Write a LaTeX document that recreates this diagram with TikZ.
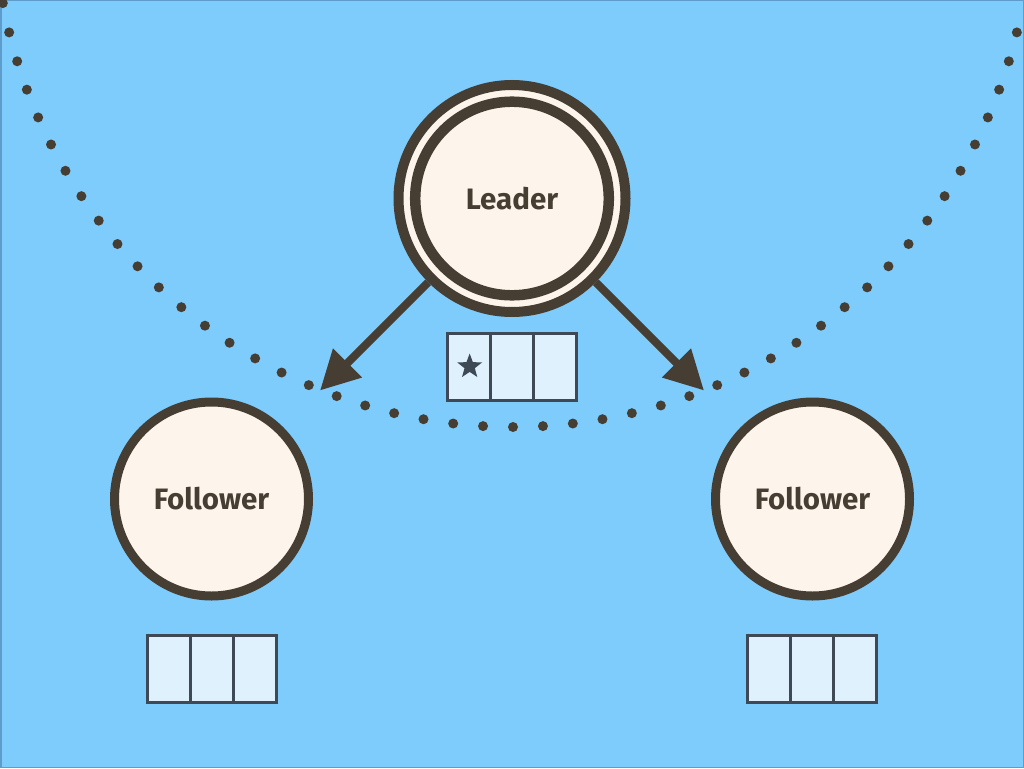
\documentclass[tikz,border=0pt]{standalone}
\usepackage{fontspec}
\setmainfont{Fira Sans}
\usetikzlibrary{arrows.meta,shapes.geometric,calc}
\definecolor{bg}{HTML}{7DCCFC}
\definecolor{bgedge}{HTML}{5E9CCB}
\definecolor{ink}{HTML}{463D33}
\definecolor{cream}{HTML}{FDF5EB}
\definecolor{cell}{HTML}{DEF1FC}
\definecolor{slate}{HTML}{3E4955}
\tikzset{
  server/.style={circle, draw=ink, fill=cream, line width=9pt, minimum size=194pt, inner sep=0pt,
    font=\fontsize{29.5pt}{32pt}\selectfont\bfseries, text=ink},
  logcell/.style={draw=slate, fill=cell, line width=3pt, minimum width=43.3pt, minimum height=67pt, inner sep=0pt, outer sep=0pt},
  flow/.style={draw=ink, line width=8pt, -{Triangle[length=39pt,width=39pt]}},
  starmark/.style={star, star points=5, star point ratio=2.4, fill=slate, minimum size=26pt, inner sep=0pt}
}
\begin{document}
\begin{tikzpicture}[x=1pt,y=-1pt]
\useasboundingbox (0,0) rectangle (1024,768);
\fill[bg] (0,0) rectangle (1024,768);
\draw[bgedge, line width=1.5pt] (0.75,0.75) rectangle (1023.25,767.25);
% dotted arc
\foreach \k in {-23,...,24} {
  \fill[ink] ($(513,-92)+({90+\k*3.31}:519)$) circle (5pt);
}
% leader
\node[circle, draw=ink, fill=cream, line width=10pt, minimum size=227pt, inner sep=0pt] (lring) at (512,198.5) {};
\node[server, line width=10.5pt, minimum size=193.6pt] (leader) at (512,198.5) {\raisebox{-2pt}{Leader}};
% followers
\node[server] (f1) at (211.5,499) {\raisebox{-2pt}{Follower}};
\node[server] (f2) at (812.5,499) {\raisebox{-2pt}{Follower}};
% arrows
\draw[flow, shorten >=52pt] (lring) -- (f1);
\draw[flow, shorten >=52pt] (lring) -- (f2);
% logs
\foreach \n/\x/\y in {L/447/333, A/147/635, B/747/635} {
  \node[logcell, anchor=north west] (\n1) at (\x,\y) {};
  \node[logcell, anchor=west] (\n2) at (\n1.east) {};
  \node[logcell, anchor=west] (\n3) at (\n2.east) {};
}
\node[starmark] (starL) at ($(L1.center)+(1,0)$) {};
\end{tikzpicture}
\end{document}
